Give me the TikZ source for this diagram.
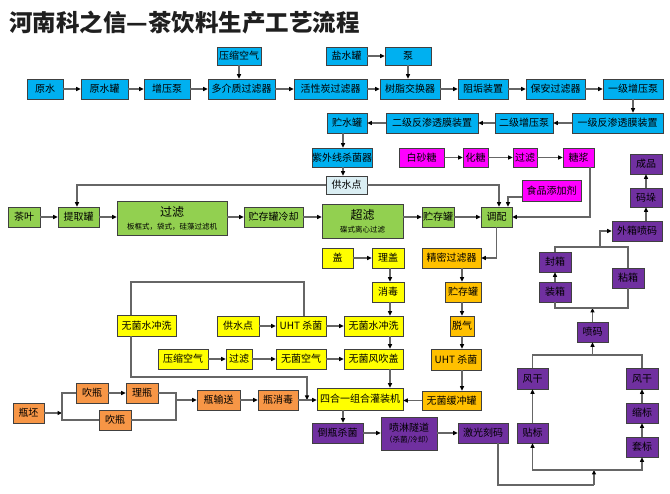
\documentclass[tikz,border=0pt]{standalone}
\usepackage{fontspec}
\newfontfamily\cjk{Noto Sans CJK SC}
\usetikzlibrary{arrows.meta,calc}
\definecolor{cblue}{RGB}{0,176,240}
\definecolor{clblue}{RGB}{218,238,243}
\definecolor{cgreen}{RGB}{146,208,80}
\definecolor{cpink}{RGB}{255,0,255}
\definecolor{cyellow}{RGB}{255,255,0}
\definecolor{cgold}{RGB}{255,192,0}
\definecolor{corange}{RGB}{247,150,70}
\definecolor{cpurple}{RGB}{112,48,160}
\tikzset{
  box/.style={draw=black!75, line width=0.7pt, inner sep=0pt, align=center,
    font=\cjk\fontsize{10}{12}\selectfont, text=black},
  plain/.style={draw=black!60, line width=1.1pt},
  conn/.style={plain, -{Triangle[length=4.5pt,width=4pt,color=black]}},
}
\newcommand\bx[7]{\node[box,#6,minimum width={#4-#2},minimum height={#5-#3}] (#1) at ({(#2+#4)/2},{(#3+#5)/2}) {#7};}
\begin{document}
\begin{tikzpicture}[x=1pt,y=-1pt]
\fill[white] (0,0) rectangle (670,494);
\useasboundingbox (0,0) rectangle (670,494);
\node[anchor=west, font=\cjk\bfseries\fontsize{23.5}{25}\selectfont, text=black!88, inner sep=0pt] (title) at (9,23) {河南科之信—茶饮料生产工艺流程};
% blue
\bx{ysqk}{217}{47}{261}{65}{fill=cblue}{压缩空气}
\bx{yanshui}{326}{47}{367}{65}{fill=cblue}{盐水罐}
\bx{beng}{385}{47}{431}{65}{fill=cblue}{泵}
\bx{yuanshui}{27}{79}{63}{99}{fill=cblue}{原水}
\bx{yuanshuiguan}{81}{79}{128}{99}{fill=cblue}{原水罐}
\bx{zengya}{144}{79}{190}{99}{fill=cblue}{增压泵}
\bx{duojie}{208}{79}{275}{99}{fill=cblue}{多介质过滤器}
\bx{huoxing}{294}{79}{367}{99}{fill=cblue}{活性炭过滤器}
\bx{shuzhi}{380}{79}{440}{99}{fill=cblue}{树脂交换器}
\bx{zugou}{458}{79}{508}{99}{fill=cblue}{阻垢装置}
\bx{baoan}{526}{79}{585}{99}{fill=cblue}{保安过滤器}
\bx{yiji}{603}{79}{663}{99}{fill=cblue}{一级增压泵}
\bx{yijifan}{572}{113}{663}{133}{fill=cblue}{一级反渗透膜装置}
\bx{erjizeng}{495}{113}{553}{133}{fill=cblue}{二级增压泵}
\bx{erjifan}{386}{113}{478}{133}{fill=cblue}{二级反渗透膜装置}
\bx{zhushui}{327}{113}{367}{133}{fill=cblue}{贮水罐}
\bx{ziwai}{312}{148}{372}{167}{fill=cblue}{紫外线杀菌器}
\bx{gongshui}{326}{176}{367}{194}{fill=clblue}{供水点}
% pink
\bx{baisha}{399}{148}{444}{167}{fill=cpink}{白砂糖}
\bx{huatang}{463}{148}{488}{167}{fill=cpink}{化糖}
\bx{glpink}{513}{148}{537}{167}{fill=cpink}{过滤}
\bx{tangjiang}{563}{148}{594}{167}{fill=cpink}{糖浆}
\bx{tianjia}{522}{180}{581}{201}{fill=cpink}{食品添加剂}
% green
\bx{chaye}{8}{207}{40}{227}{fill=cgreen}{茶叶}
\bx{tiqu}{58}{207}{99}{227}{fill=cgreen}{提取罐}
\bx{glgreen}{117}{201}{227}{235}{fill=cgreen}{{\fontsize{12}{13}\selectfont 过滤}\\[1pt]{\fontsize{7.5}{9}\selectfont 板框式，袋式，硅藻过滤机}}
\bx{lengque}{244}{207}{303}{227}{fill=cgreen}{贮存罐冷却}
\bx{chaolv}{322}{204}{403}{238}{fill=cgreen}{{\fontsize{12}{13}\selectfont 超滤}\\[1pt]{\fontsize{7.5}{9}\selectfont 碟式离心过滤}}
\bx{zhucun}{422}{207}{454}{227}{fill=cgreen}{贮存罐}
\bx{tiaopei}{481}{207}{512}{227}{fill=cgreen}{调配}
% yellow
\bx{gai}{322}{248}{353}{268}{fill=cyellow}{盖}
\bx{ligai}{372}{248}{404}{268}{fill=cyellow}{理盖}
\bx{xiaodu}{372}{282}{404}{302}{fill=cyellow}{消毒}
\bx{wjsc2}{344}{316}{403}{336}{fill=cyellow}{无菌水冲洗}
\bx{wjfc}{344}{349}{403}{369}{fill=cyellow}{无菌风吹盖}
\bx{gsd2}{217}{316}{259}{336}{fill=cyellow}{供水点}
\bx{uht1}{276}{316}{326}{336}{fill=cyellow}{UHT 杀菌}
\bx{wjsc1}{117}{315}{176}{336}{fill=cyellow}{无菌水冲洗}
\bx{ysqk2}{158}{349}{208}{369}{fill=cyellow}{压缩空气}
\bx{gl3}{226}{349}{252}{369}{fill=cyellow}{过滤}
\bx{wjkq}{276}{349}{326}{369}{fill=cyellow}{无菌空气}
\bx{sihe}{317}{388}{403}{410}{fill=cyellow}{四合一组合灌装机}
% gold
\bx{jingmi}{422}{248}{481}{268}{fill=cgold}{精密过滤器}
\bx{zhucun2}{445}{282}{481}{302}{fill=cgold}{贮存罐}
\bx{tuoqi}{450}{316}{474}{336}{fill=cgold}{脱气}
\bx{uht2}{431}{349}{481}{370}{fill=cgold}{UHT 杀菌}
\bx{huanchong}{422}{391}{481}{410}{fill=cgold}{无菌缓冲罐}
% orange
\bx{pipi}{13}{403}{44}{423}{fill=corange}{瓶坯}
\bx{chui1}{76}{383}{108}{403}{fill=corange}{吹瓶}
\bx{liping}{126}{383}{158}{403}{fill=corange}{理瓶}
\bx{chui2}{99}{410}{131}{430}{fill=corange}{吹瓶}
\bx{shusong}{197}{390}{240}{410}{fill=corange}{瓶输送}
\bx{pxd}{258}{390}{298}{410}{fill=corange}{瓶消毒}
% purple
\bx{daoping}{312}{423}{363}{443}{fill=cpurple}{倒瓶杀菌}
\bx{penlin}{381}{417}{437}{450}{fill=cpurple}{喷淋隧道\\[-1pt]{\fontsize{7.5}{9}\selectfont （杀菌/冷却）}}
\bx{jiguang}{458}{423}{508}{443}{fill=cpurple}{激光刻码}
\bx{tiebiao}{517}{423}{548}{443}{fill=cpurple}{贴标}
\bx{fg1}{517}{368}{548}{389}{fill=cpurple}{风干}
\bx{taobiao}{626}{437}{658}{457}{fill=cpurple}{套标}
\bx{suobiao}{626}{403}{658}{423}{fill=cpurple}{缩标}
\bx{fg2}{626}{368}{658}{389}{fill=cpurple}{风干}
\bx{penma}{577}{322}{608}{342}{fill=cpurple}{喷码}
\bx{zhuangxiang}{539}{282}{571}{302}{fill=cpurple}{装箱}
\bx{fengxiang}{539}{252}{571}{272}{fill=cpurple}{封箱}
\bx{zhanxiang}{612}{268}{644}{288}{fill=cpurple}{粘箱}
\bx{waixiang}{612}{221}{662}{241}{fill=cpurple}{外箱喷码}
\bx{maduo}{630}{188}{662}{207}{fill=cpurple}{码垛}
\bx{chengpin}{630}{154}{662}{174}{fill=cpurple}{成品}
% helper coordinates
\coordinate (cx343) at (343,0);
\coordinate (cx590) at (590,0);
\coordinate (cx508) at (508,0);
\coordinate (cx499) at (499,0);
\coordinate (cx77) at (77,0);
\coordinate (cx462) at (462,0);
\coordinate (cx390) at (390,0);
\coordinate (cx304) at (304,0);
\coordinate (cx131) at (131,0);
\coordinate (cx307) at (307,0);
\coordinate (cx62) at (62,0);
\coordinate (cx176) at (176,0);
\coordinate (cx498) at (498,0);
\coordinate (cx594) at (594,0);
\coordinate (cx600) at (600,0);
\coordinate (cx646) at (646,0);
\coordinate (ty) at (0,197);
\coordinate (ly282) at (0,282);
\coordinate (ly377) at (0,377);
\coordinate (ly485) at (0,485);
\coordinate (ly470) at (0,470);
\coordinate (ly355) at (0,355);
\coordinate (ly308) at (0,308);
\coordinate (ly247) at (0,247);
% water treatment
\draw[conn] (ysqk.south) -- (ysqk.south |- duojie.north);
\draw[conn] (yanshui) -- (beng);
\draw[conn] (beng.south) -- (beng.south |- shuzhi.north);
\draw[conn] (yuanshui) -- (yuanshuiguan);
\draw[conn] (yuanshuiguan) -- (zengya);
\draw[conn] (zengya) -- (duojie);
\draw[conn] (duojie) -- (huoxing);
\draw[conn] (huoxing) -- (shuzhi);
\draw[conn] (shuzhi) -- (zugou);
\draw[conn] (zugou) -- (baoan);
\draw[conn] (baoan) -- (yiji);
\draw[conn] (yiji.south) -- (yiji.south |- yijifan.north);
\draw[conn] (yijifan) -- (erjizeng);
\draw[conn] (erjizeng) -- (erjifan);
\draw[conn] (erjifan) -- (zhushui);
\draw[conn] (zhushui.south -| cx343) -- (ziwai.north -| cx343);
\draw[conn] (ziwai.south -| cx343) -- (gongshui.north -| cx343);
% sugar
\draw[conn] (baisha) -- (huatang);
\draw[conn] (huatang) -- (glpink);
\draw[conn] (glpink) -- (tangjiang);
\draw[conn] (tangjiang.south -| cx590) |- (tiaopei.east);
\draw[conn] (tianjia.west |- ty) -| (tiaopei.north -| cx508);
\draw[conn] (gongshui.east) -| (tiaopei.north -| cx499);
\draw[conn] (gongshui.west) -| (tiqu.north -| cx77);
% tea
\draw[conn] (chaye.east) -- (chaye.east -| tiqu.west);
\draw[conn] (tiqu.east) -- (tiqu.east -| glgreen.west);
\draw[conn] (glgreen.east |- lengque.west) -- (lengque.west);
\draw[conn] (lengque.east) -- (lengque.east -| chaolv.west);
\draw[conn] (chaolv.east |- zhucun.west) -- (zhucun.west);
\draw[conn] (zhucun.east) -- (zhucun.east -| tiaopei.west);
\draw[conn] (tiaopei.south) |- (jingmi.east);
% gold column
\draw[conn] (jingmi.south -| cx462) -- (zhucun2.north -| cx462);
\draw[conn] (zhucun2.south -| cx462) -- (tuoqi.north -| cx462);
\draw[conn] (tuoqi.south -| cx462) -- (uht2.north -| cx462);
\draw[conn] (uht2.south -| cx462) -- (huanchong.north -| cx462);
\draw[conn] (huanchong.west) -- (huanchong.west -| sihe.east);
% yellow
\draw[conn] (gai.east) -- (gai.east -| ligai.west);
\draw[conn] (ligai.south -| cx390) -- (xiaodu.north -| cx390);
\draw[conn] (xiaodu.south -| cx390) -- (wjsc2.north -| cx390);
\draw[conn] (wjsc2.south -| cx390) -- (wjfc.north -| cx390);
\draw[conn] (wjfc.south -| cx390) -- (sihe.north -| cx390);
\draw[conn] (gsd2.east) -- (gsd2.east -| uht1.west);
\draw[conn] (uht1.east) -- (uht1.east -| wjsc2.west);
\draw[conn] (ysqk2.east) -- (ysqk2.east -| gl3.west);
\draw[conn] (gl3.east) -- (gl3.east -| wjkq.west);
\draw[conn] (wjkq.east) -- (wjkq.east -| wjfc.west);
\draw[plain] (uht1.north -| cx304) |- (cx131 |- ly282) -- (wjsc1.north -| cx131);
\draw[conn] (wjsc1.south -| cx131) |- (cx307 |- ly377) -- (cx307 |- pxd.east);
% bottles
\draw[conn] (pipi.east) -- (pipi.east -| cx62);
\draw[plain] (chui1.west) -| (cx62 |- chui2.west) -- (chui2.west);
\draw[conn] (chui1.east) -- (chui1.east -| liping.west);
\draw[plain] (liping.east) -| (cx176 |- chui2.east) -- (chui2.east);
\draw[conn] (cx176 |- shusong.west) -- (shusong.west);
\draw[conn] (shusong.east) -- (shusong.east -| pxd.west);
\draw[conn] (pxd.east) -- (pxd.east -| sihe.west);
% packing
\draw[conn] (sihe.south -| cx343) -- (daoping.north -| cx343);
\draw[conn] (daoping.east) -- (daoping.east -| penlin.west);
\draw[conn] (penlin.east |- jiguang.west) -- (jiguang.west);
\draw[plain] (jiguang.south -| cx498) |- (cx594 |- ly485);
\draw[conn] (cx594 |- ly485) -- (cx594 |- ly470);
\draw[conn] (cx594 |- ly470) -| (tiebiao.south);
\draw[conn] (cx594 |- ly470) -| (taobiao.south);
\draw[conn] (tiebiao) -- (fg1);
\draw[conn] (taobiao) -- (suobiao);
\draw[conn] (suobiao) -- (fg2);
\draw[plain] (fg1.north) |- (fg2.north |- ly355) -- (fg2.north);
\draw[conn] (penma.south |- ly355) -- (penma.south);
\draw[conn] (penma.north) -- (penma.north |- ly308);
\draw[plain] (zhuangxiang.south) |- (zhanxiang.south |- ly308) -- (zhanxiang.south);
\draw[conn] (zhuangxiang) -- (fengxiang);
\draw[plain] (fengxiang.north) |- (zhanxiang.north |- ly247) -- (zhanxiang.north);
\draw[conn] (cx600 |- ly247) |- (waixiang.west);
\draw[conn] (waixiang.north -| cx646) -- (maduo.south -| cx646);
\draw[conn] (maduo) -- (chengpin);
\end{tikzpicture}
\end{document}
